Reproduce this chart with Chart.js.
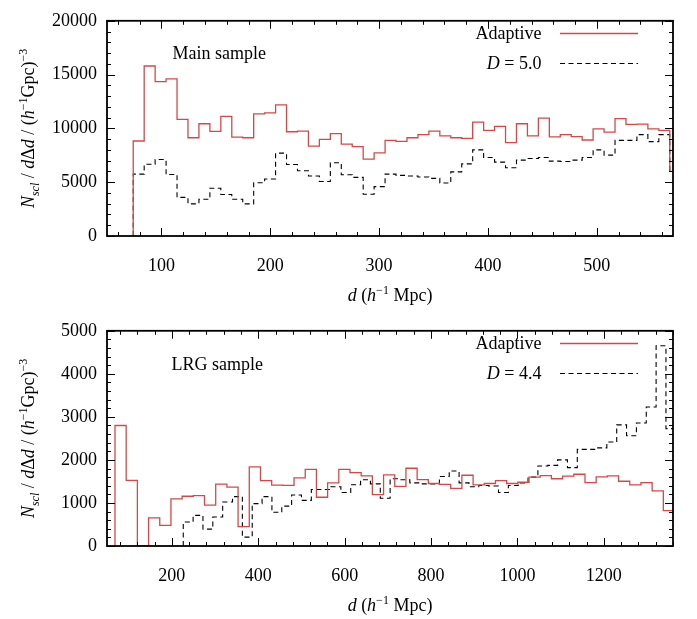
<!DOCTYPE html>
<html>
<head>
<meta charset="utf-8">
<script src="https://cdn.jsdelivr.net/npm/chart.js@4.4.0/dist/chart.umd.min.js"></script>
<style>
    html, body { margin: 0; padding: 0; background: #fff; }
    #wrap { width: 697px; height: 619px; }
    canvas { display: block; }
</style>
</head>
<body>
<div id="wrap">
    <canvas id="mainChart" width="697" height="310"></canvas>
    <canvas id="lrgChart" width="697" height="309"></canvas>
</div>
<script>
// ---- Main sample (top panel) ----
const mainBinStart = 74.1;
const mainBinWidth = 10.06;
const mainAdaptive = [
    8830, 15800, 14340, 14600, 10840, 9130, 10430, 9720, 11110, 9190,
    9130, 11350, 11440, 12180, 9690, 9750, 8360, 8980, 9510, 8530,
    8300, 7140, 7730, 8890, 8800, 9130, 9420, 9750, 9300, 9130,
    9070, 10580, 9810, 10190, 8680, 10430, 9300, 10960, 9220, 9420,
    9240, 8920, 9960, 9660, 10900, 10370, 10400, 9960, 9810, 6000,
];
const mainFixed = [
    5750, 6670, 7110, 5720, 3590, 2990, 3410, 4440, 3850, 3410,
    2990, 4950, 5300, 7700, 6640, 6070, 5570, 5070, 6810, 5690,
    5450, 3880, 4590, 5750, 5630, 5570, 5480, 5360, 4920, 5960,
    6700, 8000, 7290, 6870, 6340, 7050, 7200, 7290, 6960, 6930,
    7050, 7290, 8000, 7520, 8890, 8890, 9420, 8770, 9420, 6000,
];
const mainXTicks = [100, 200, 300, 400, 500];
const mainYTicks = [0, 5000, 10000, 15000, 20000];

// ---- LRG sample (bottom panel) ----
const lrgAdaptiveStart = 68.5;
const lrgAdaptiveWidth = 25.9;
const lrgAdaptive = [
    2800, 1526, 0, 652, 481, 1096, 1156, 1170, 948, 1437,
    1370, 452, 1837, 1519, 1415, 1407, 1585, 1778, 1133, 1467,
    1778, 1704, 1630, 1193, 1652, 1385, 1807, 1541, 1452, 1430,
    1341, 1644, 1422, 1452, 1519, 1452, 1481, 1600, 1637, 1563,
    1622, 1667, 1474, 1607, 1630, 1504, 1422, 1474, 1281, 822,
];
const lrgFixedStart = 226.5;
const lrgFixedWidth = 22.8;
const lrgFixed = [
    556, 711, 393, 674, 1022, 1148, 207, 985, 1148, 785,
    926, 1185, 1059, 1311, 1311, 1378, 1244, 1422, 1541, 1444,
    1110, 1563, 1541, 1467, 1444, 1444, 1615, 1741, 1467, 1378,
    1407, 1393, 1244, 1407, 1467, 1600, 1859, 1874, 2000, 1822,
    2244, 2244, 2281, 2415, 2815, 2563, 2859, 3230, 4652, 2726,
];
const lrgXTicks = [200, 400, 600, 800, 1000, 1200];
const lrgYTicks = [0, 1000, 2000, 3000, 4000, 5000];

const SERIF = '"Liberation Serif", "Times New Roman", serif';
const RED = "rgb(214, 72, 72)";
const PLOT_BOTTOM = 236;

// histogram outline: rise from zero at the first edge, then one step per bin
function histPoints(start, width, values) {
    const pts = [{ x: start, y: 0 }];
    values.forEach((v, i) => pts.push({ x: start + i * width, y: v }));
    pts.push({ x: start + values.length * width, y: values[values.length - 1] });
    return pts;
}

function fontFor(run, size) {
    const s = run.sub || run.sup ? Math.round(size * 0.68) : size;
    return `${run.i ? "italic " : ""}${s}px ${SERIF}`;
}

function measureRich(ctx, runs, size) {
    let w = 0;
    runs.forEach((r) => {
        ctx.font = fontFor(r, size);
        w += ctx.measureText(r.t).width;
    });
    return w;
}

function drawRich(ctx, runs, x, y, size, align) {
    const w = measureRich(ctx, runs, size);
    let cx = align === "right" ? x - w : align === "center" ? x - w / 2 : x;
    ctx.textAlign = "left";
    ctx.textBaseline = "alphabetic";
    ctx.fillStyle = "#000";
    runs.forEach((r) => {
        ctx.font = fontFor(r, size);
        const dy = r.sub ? size * 0.3 : r.sup ? -size * 0.4 : 0;
        ctx.fillText(r.t, cx, y + dy);
        cx += ctx.measureText(r.t).width;
    });
}

const xTitleRuns = [
    { t: "d", i: true }, { t: " (" }, { t: "h", i: true }, { t: "−1", sup: true }, { t: " Mpc)" },
];
const yTitleRuns = [
    { t: "N", i: true }, { t: "scl", i: true, sub: true }, { t: " / " },
    { t: "d", i: true }, { t: "Δ" }, { t: "d", i: true }, { t: " / (" },
    { t: "h", i: true }, { t: "−1", sup: true }, { t: "Gpc)" }, { t: "−3", sup: true },
];

// gnuplot-like frame with inward major/minor ticks on all four sides
const frameTicks = {
    id: "frameTicks",
    afterDraw(chart, args, opts) {
        const { ctx, chartArea: a, scales } = chart;
        const x = scales.x;
        const y = scales.y;
        ctx.save();
        ctx.strokeStyle = "#000";
        ctx.lineWidth = 1;
        ctx.beginPath();
        const first = (min, step) => Math.ceil(min / step - 1e-9) * step;
        for (let v = first(x.min, opts.xMinor); v <= x.max; v += opts.xMinor) {
            const px = Math.round(x.getPixelForValue(v)) + 0.5;
            const len = Math.abs(v / opts.xMajor - Math.round(v / opts.xMajor)) < 1e-6 ? 8 : 4;
            ctx.moveTo(px, a.bottom); ctx.lineTo(px, a.bottom - len);
            ctx.moveTo(px, a.top); ctx.lineTo(px, a.top + len);
        }
        for (let v = first(y.min, opts.yMinor); v <= y.max; v += opts.yMinor) {
            const py = Math.round(y.getPixelForValue(v)) + 0.5;
            const len = Math.abs(v / opts.yMajor - Math.round(v / opts.yMajor)) < 1e-6 ? 8 : 4;
            ctx.moveTo(a.left, py); ctx.lineTo(a.left + len, py);
            ctx.moveTo(a.right, py); ctx.lineTo(a.right - len, py);
        }
        ctx.stroke();
        ctx.lineWidth = 1.8;
        ctx.strokeRect(a.left, a.top, a.right - a.left, a.bottom - a.top);
        ctx.restore();
    },
};

// panel label, key and axis titles
const panelText = {
    id: "panelText",
    afterDraw(chart, args, opts) {
        const { ctx, chartArea: a } = chart;
        const ds = chart.data.datasets;
        ctx.save();
        drawRich(ctx, [{ t: opts.label }], opts.labelX, opts.labelY, 18, "left");

        // key
        opts.keys.forEach((runs, i) => {
            const ky = 33.5 + i * 30;
            drawRich(ctx, runs, 541.5, ky + 5.5, 18, "right");
            ctx.beginPath();
            ctx.strokeStyle = ds[i].borderColor;
            ctx.lineWidth = ds[i].borderWidth;
            ctx.setLineDash(ds[i].borderDash || []);
            ctx.moveTo(560, ky);
            ctx.lineTo(638, ky);
            ctx.stroke();
            ctx.setLineDash([]);
        });

        drawRich(ctx, xTitleRuns, (a.left + a.right) / 2, 301, 18, "center");

        ctx.translate(34, (a.top + a.bottom) / 2);
        ctx.rotate(-Math.PI / 2);
        drawRich(ctx, yTitleRuns, 0, 0, 18, "center");
        ctx.restore();
    },
};

function createPanel(canvasID, cfg) {
    const canvas = document.getElementById(canvasID);
    const tickFont = { family: SERIF, size: 18 };
    const plain = (v) => String(v);
    return new Chart(canvas, {
        type: "line",
        data: {
            datasets: [
                {
                    label: "Adaptive",
                    data: cfg.adaptive,
                    borderColor: RED,
                    borderWidth: 1.3,
                    stepped: true,
                    pointRadius: 0,
                    fill: false,
                },
                {
                    label: cfg.fixedLabel,
                    data: cfg.fixed,
                    borderColor: "#000",
                    borderWidth: 1.1,
                    borderDash: [5, 3.5],
                    stepped: true,
                    pointRadius: 0,
                    fill: false,
                },
            ],
        },
        options: {
            responsive: false,
            animation: false,
            layout: { padding: { top: 11, right: 24, left: 0, bottom: 0 } },
            scales: {
                x: {
                    type: "linear",
                    min: cfg.xMin,
                    max: cfg.xMax,
                    grid: { display: false, drawTicks: false },
                    border: { display: false },
                    ticks: { font: tickFont, color: "#000", padding: 19, maxRotation: 0, autoSkip: false, callback: plain },
                    afterBuildTicks: (scale) => { scale.ticks = cfg.xTicks.map((v) => ({ value: v })); },
                    afterFit: (scale) => { scale.height = canvas.height - PLOT_BOTTOM; },
                },
                y: {
                    min: cfg.yTicks[0],
                    max: cfg.yTicks[cfg.yTicks.length - 1],
                    grid: { display: false, drawTicks: false },
                    border: { display: false },
                    ticks: { font: tickFont, color: "#000", padding: 10, callback: plain },
                    afterBuildTicks: (scale) => { scale.ticks = cfg.yTicks.map((v) => ({ value: v })); },
                    afterFit: (scale) => { scale.width = 107; },
                },
            },
            plugins: {
                legend: { display: false },
                tooltip: { enabled: false },
                frameTicks: cfg.ticks,
                panelText: cfg.text,
            },
        },
        plugins: [frameTicks, panelText],
    });
}

createPanel("mainChart", {
    adaptive: histPoints(mainBinStart, mainBinWidth, mainAdaptive),
    fixed: histPoints(mainBinStart, mainBinWidth, mainFixed),
    fixedLabel: "D = 5.0",
    xMin: 50,
    xMax: 570,
    xTicks: mainXTicks,
    yTicks: mainYTicks,
    ticks: { xMinor: 20, xMajor: 100, yMinor: 1000, yMajor: 5000 },
    text: {
        label: "Main sample",
        labelX: 172.5,
        labelY: 59,
        keys: [[{ t: "Adaptive" }], [{ t: "D", i: true }, { t: " = 5.0" }]],
    },
});

createPanel("lrgChart", {
    adaptive: histPoints(lrgAdaptiveStart, lrgAdaptiveWidth, lrgAdaptive),
    fixed: histPoints(lrgFixedStart, lrgFixedWidth, lrgFixed),
    fixedLabel: "D = 4.4",
    xMin: 50,
    xMax: 1360,
    xTicks: lrgXTicks,
    yTicks: lrgYTicks,
    ticks: { xMinor: 40, xMajor: 200, yMinor: 200, yMajor: 1000 },
    text: {
        label: "LRG sample",
        labelX: 171.5,
        labelY: 60,
        keys: [[{ t: "Adaptive" }], [{ t: "D", i: true }, { t: " = 4.4" }]],
    },
});
</script>
</body>
</html>
